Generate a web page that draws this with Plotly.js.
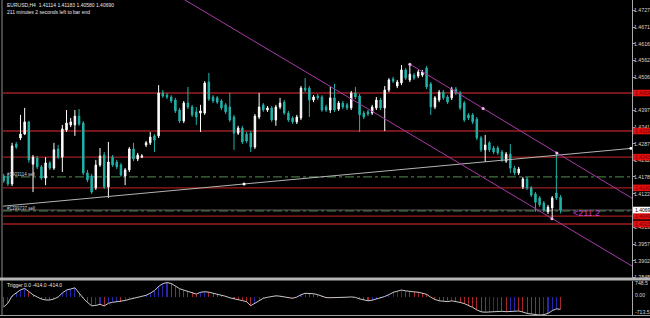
<!DOCTYPE html>
<html><head><meta charset="utf-8">
<script src="https://cdn.plot.ly/plotly-3.0.1.min.js"></script>
<style>html,body{margin:0;padding:0;background:#000;}#chart{width:650px;height:318px;}</style>
</head><body><div id="chart"></div>
<script>
// ---- data ----
const symbolInfo = 'EURUSD,H4  1.41114 1.41183 1.40580 1.40690';
const timerInfo = '211 minutes 2 seconds left to bar end';
const triggerInfo = 'Trigger 0.0 -414.0 -414.0';

const open = [1.4181,1.4178,1.4155,1.4286,1.4306,1.4319,1.4359,1.4220,1.4240,1.4211,
1.4174,1.4224,1.4207,1.4270,1.4243,1.4332,1.4349,1.4349,1.4378,1.4355,
1.4191,1.4181,1.4142,1.4217,1.4250,1.4145,1.4243,1.4227,1.4217,1.4181,
1.4201,1.4270,1.4237,1.4243,1.4283,1.4290,1.4313,1.4313,1.4454,1.4447,
1.4441,1.4431,1.4398,1.4362,1.4421,1.4408,1.4392,1.4388,1.4388,1.4490,
1.4441,1.4438,1.4428,1.4415,1.4408,1.4375,1.4322,1.4339,1.4319,1.4322,
1.4276,1.4375,1.4415,1.4398,1.4405,1.4365,1.4408,1.4424,1.4388,1.4372,
1.4359,1.4372,1.4470,1.4470,1.4431,1.4444,1.4441,1.4408,1.4398,1.4438,
1.4401,1.4421,1.4415,1.4405,1.4454,1.4444,1.4388,1.4392,1.4388,1.4405,
1.4431,1.4405,1.4464,1.4500,1.4477,1.4487,1.4530,1.4497,1.4513,1.4510,
1.4513,1.4536,1.4484,1.4408,1.4431,1.4457,1.4441,1.4438,1.4467,1.4454,
1.4421,1.4382,1.4382,1.4368,1.4306,1.4267,1.4290,1.4273,1.4273,1.4260,
1.4230,1.4253,1.4207,1.4191,1.4145,1.4171,1.4142,1.4122,1.4109,1.4092,
1.4063,1.4076,1.4125,1.41114];
const high = [1.4188,1.4184,1.4290,1.4293,1.4382,1.4405,1.4362,1.4250,1.4247,1.4217,
1.4243,1.4230,1.4290,1.4283,1.4349,1.4398,1.4372,1.4398,1.4401,1.4362,
1.4201,1.4188,1.4234,1.4273,1.4260,1.4293,1.4250,1.4234,1.4224,1.4207,
1.4276,1.4290,1.4257,1.4253,1.4296,1.4326,1.4319,1.4480,1.4464,1.4454,
1.4447,1.4438,1.4405,1.4428,1.4474,1.4415,1.4408,1.4415,1.4493,1.4520,
1.4447,1.4444,1.4434,1.4421,1.4454,1.4382,1.4346,1.4346,1.4326,1.4329,
1.4385,1.4454,1.4421,1.4411,1.4411,1.4415,1.4438,1.4431,1.4395,1.4378,
1.4382,1.4477,1.4503,1.4477,1.4447,1.4451,1.4447,1.4415,1.4474,1.4484,
1.4428,1.4428,1.4421,1.4461,1.4474,1.4451,1.4395,1.4398,1.4415,1.4441,
1.4438,1.4477,1.4503,1.4507,1.4497,1.4546,1.4536,1.4549,1.4520,1.4530,
1.4530,1.4543,1.4490,1.4444,1.4464,1.4464,1.4447,1.4474,1.4474,1.4461,
1.4428,1.4388,1.4388,1.4375,1.4313,1.4316,1.4296,1.4280,1.4280,1.4267,
1.4260,1.4286,1.4214,1.4211,1.4178,1.4178,1.4148,1.4128,1.4115,1.4099,
1.4086,1.4115,1.4260,1.41183];
const low = [1.4158,1.4148,1.4148,1.4270,1.4299,1.4316,1.4224,1.4128,1.4204,1.4168,
1.4151,1.4201,1.4201,1.4237,1.4194,1.4326,1.4342,1.4313,1.4346,1.4184,
1.4161,1.4122,1.4135,1.4211,1.4138,1.4109,1.4211,1.4204,1.4178,1.4151,
1.4194,1.4230,1.4230,1.4240,1.4276,1.4283,1.4260,1.4306,1.4438,1.4434,
1.4421,1.4388,1.4355,1.4355,1.4401,1.4375,1.4349,1.4326,1.4382,1.4428,
1.4421,1.4418,1.4398,1.4385,1.4359,1.4267,1.4316,1.4286,1.4290,1.4260,
1.4270,1.4368,1.4392,1.4392,1.4359,1.4346,1.4401,1.4382,1.4359,1.4352,
1.4352,1.4365,1.4457,1.4375,1.4424,1.4431,1.4392,1.4392,1.4388,1.4392,
1.4395,1.4401,1.4398,1.4398,1.4434,1.4326,1.4368,1.4378,1.4382,1.4398,
1.4398,1.4329,1.4457,1.4487,1.4470,1.4480,1.4497,1.4490,1.4497,1.4503,
1.4507,1.4467,1.4382,1.4401,1.4424,1.4431,1.4418,1.4431,1.4447,1.4398,
1.4359,1.4365,1.4352,1.4299,1.4260,1.4227,1.4260,1.4253,1.4250,1.4227,
1.4224,1.4191,1.4184,1.4184,1.4138,1.4135,1.4112,1.4063,1.4079,1.4063,
1.4056,1.4040,1.4102,1.40580];
const close = [1.4165,1.4155,1.4280,1.4276,1.4319,1.4359,1.4234,1.4243,1.4211,1.4174,
1.4224,1.4207,1.4267,1.4243,1.4336,1.4355,1.4359,1.4378,1.4352,1.4191,
1.4168,1.4128,1.4217,1.4247,1.4145,1.4227,1.4217,1.4211,1.4184,1.4201,
1.4270,1.4237,1.4250,1.4247,1.4290,1.4309,1.4299,1.4454,1.4444,1.4441,
1.4428,1.4395,1.4362,1.4421,1.4408,1.4382,1.4375,1.4395,1.4487,1.4434,
1.4428,1.4424,1.4405,1.4392,1.4365,1.4322,1.4339,1.4293,1.4296,1.4276,
1.4378,1.4408,1.4398,1.4405,1.4365,1.4408,1.4421,1.4388,1.4365,1.4359,
1.4375,1.4470,1.4464,1.4431,1.4441,1.4438,1.4398,1.4398,1.4438,1.4398,
1.4421,1.4408,1.4405,1.4454,1.4441,1.4382,1.4375,1.4385,1.4408,1.4431,
1.4405,1.4464,1.4497,1.4493,1.4490,1.4530,1.4503,1.4516,1.4503,1.4523,
1.4523,1.4474,1.4408,1.4438,1.4457,1.4438,1.4424,1.4467,1.4454,1.4405,
1.4365,1.4372,1.4359,1.4306,1.4267,1.4283,1.4267,1.4260,1.4257,1.4234,
1.4253,1.4207,1.4191,1.4204,1.4171,1.4142,1.4118,1.4095,1.4086,1.4069,
1.4079,1.4109,1.4109,1.40690];

const trigger = [-337,-209,34,142,239,290,168,74,0,-67,
-101,-101,-67,0,135,236,270,310,135,-44,
-182,-297,-286,-246,-303,-212,-179,-158,-158,-118,
-78,-44,-20,3,57,128,216,354,452,485,
455,371,280,233,195,152,98,158,179,162,
125,104,74,24,-27,-71,-91,-121,-158,-293,
-219,-118,-44,-10,20,40,27,3,-30,-44,
-3,78,125,125,111,78,27,-20,-24,-24,
-24,-17,-7,3,-13,-64,-104,-128,-108,-74,
-37,17,81,155,195,233,209,179,172,162,
135,91,-7,-84,-128,-148,-155,-131,-145,-182,
-222,-276,-350,-435,-499,-512,-506,-495,-479,-482,
-495,-482,-472,-472,-506,-553,-573,-590,-607,-593,
-553,-458,-401,-414];

const priceTicks = [1.4727,1.4671,1.4616,1.4562,1.4506,1.4397,1.4341,1.4287,1.4232,1.4178,1.4122,1.4013,1.3957,1.3902,1.3848];
const priceTickText = ['1.4727','1.4671','1.4616','1.4562','1.4506','1.4397','1.4341','1.4287','1.4232','1.4178','1.4122','1.4013','1.3957','1.3902','1.3848'];

const redLevels = [1.4454,1.4329,1.4243,1.4142,1.4049,1.4023];
const redLevelText = ['1.4454','1.4329','1.4243','1.4142','1.4049','1.4023'];
const orderLevels = [1.4178,1.4066];
const orderLabels = ['#1403114 sell','#1399737 sell'];
const bidPrice = 1.4069;
const bidText = '1.4069';

// drawn objects (anchor points in bar index / price)
const grayTrendX = [-1,151], grayTrendY = [1.40807,1.42733];
const channelLowX = [40,151], channelLowY = [1.4787,1.3877];
const channelHighX = [97,151], channelHighY = [1.4549,1.4100];
const anchorX = [97,114.5,132.1,130.95], anchorY = [1.4549,1.4403,1.4257,1.4040];
const trendDotX = [57.4,149.8], trendDotY = [1.4155,1.4272];
const pipsLabel = '<211.2';
const indLabels = ['748.5','0.00','-713.5'];

// ---- build ----
const bar = open.map((_, i) => i);
const TEAL = '#20b2aa', BLUE = '#2626a8', RED = '#a82626';
const histColors = trigger.map((v, i) => (i > 0 && v > trigger[i-1]) ? BLUE : RED);

const FONT = 'Liberation Sans, Arial, sans-serif';
const PX_W = 629, PX_H = 316;
const px2x = p => (p - 3) / PX_W;
const px2y = p => (PX_H - p) / PX_H;
const pricePerPx = (1.4760 - 1.38454) / 278;

const traces = [
  {type:'bar', x:bar, y:trigger, xaxis:'x2', yaxis:'y2', width:0.25,
   marker:{color:histColors, line:{width:0}}, hoverinfo:'skip'},
  {type:'scatter', mode:'lines', x:bar, y:trigger, xaxis:'x2', yaxis:'y2',
   line:{color:'#c8c8c8', width:1}, hoverinfo:'skip'},
  {type:'scatter', mode:'lines', x:grayTrendX, y:grayTrendY, line:{color:'#b4b4b4', width:1}, hoverinfo:'skip'},
  {type:'scatter', mode:'lines', x:channelLowX, y:channelLowY, line:{color:'#a83aa8', width:1}, hoverinfo:'skip'},
  {type:'scatter', mode:'lines', x:channelHighX, y:channelHighY, line:{color:'#a83aa8', width:1}, hoverinfo:'skip'},
  {type:'candlestick', x:bar, open:open, high:high, low:low, close:close,
   increasing:{line:{color:'#ffffff', width:1}, fillcolor:'#ffffff'},
   decreasing:{line:{color:TEAL, width:1}, fillcolor:TEAL},
   whiskerwidth:0, hoverinfo:'skip'},
  {type:'scatter', mode:'markers', x:anchorX, y:anchorY, marker:{color:'#f0b8f0', size:3}, hoverinfo:'skip'},
  {type:'scatter', mode:'markers', x:trendDotX, y:trendDotY, marker:{color:'#ffffff', size:3}, hoverinfo:'skip'}
];

const shapes = [];
redLevels.forEach(v => shapes.push({type:'line', xref:'x domain', x0:0, x1:1, yref:'y', y0:v, y1:v,
  line:{color:'#9e1e1e', width:1.3}, layer:'below'}));
orderLevels.forEach(v => shapes.push({type:'line', xref:'x domain', x0:0, x1:1, yref:'y', y0:v, y1:v,
  line:{color:'#4f8f4f', width:1, dash:'dashdot'}, layer:'below'}));
shapes.push({type:'line', xref:'x domain', x0:0, x1:1, yref:'y', y0:bidPrice, y1:bidPrice,
  line:{color:'#606060', width:1}, layer:'below'});
// right-axis price boxes
const boxH = 3.3 * pricePerPx;
redLevels.forEach(v => shapes.push({type:'rect', xref:'paper', x0:px2x(633), x1:px2x(651), yref:'y',
  y0:v - boxH, y1:v + boxH, fillcolor:'#e01010', line:{width:0}, layer:'above'}));
shapes.push({type:'rect', xref:'paper', x0:px2x(633), x1:px2x(651), yref:'y',
  y0:bidPrice - boxH, y1:bidPrice + boxH, fillcolor:'#ffffff', line:{width:0}, layer:'above'});
// frame
shapes.push({type:'line', xref:'paper', yref:'paper', x0:px2x(2), x1:px2x(2), y0:0, y1:1, line:{color:'#8c8c8c', width:1}});
shapes.push({type:'rect', xref:'paper', yref:'paper', x0:px2x(0), x1:px2x(650), y0:px2y(280.5), y1:px2y(277.5),
  fillcolor:'#b4b4b4', line:{width:0}});
shapes.push({type:'line', xref:'paper', yref:'paper', x0:px2x(0), x1:px2x(650), y0:px2y(315.5), y1:px2y(315.5), line:{color:'#a0a0a0', width:1}});

const txt = (s, c) => ({family:FONT, size:s, color:c});
const annotations = [
  {xref:'paper', yref:'paper', x:px2x(5), y:px2y(5), text:symbolInfo, showarrow:false, xanchor:'left', yanchor:'middle', font:txt(5,'#e8e8e8')},
  {xref:'paper', yref:'paper', x:px2x(5), y:px2y(12), text:timerInfo, showarrow:false, xanchor:'left', yanchor:'middle', font:txt(5,'#e8e8e8')},
  {xref:'paper', yref:'paper', x:px2x(5), y:px2y(285), text:triggerInfo, showarrow:false, xanchor:'left', yanchor:'middle', font:txt(5,'#e8e8e8')},
  {xref:'paper', yref:'paper', x:px2x(633), y:px2y(283), text:indLabels[0], showarrow:false, xanchor:'left', yanchor:'middle', font:txt(5.2,'#d8d8d8')},
  {xref:'paper', yref:'paper', x:px2x(633), y:px2y(295), text:indLabels[1], showarrow:false, xanchor:'left', yanchor:'middle', font:txt(5.2,'#d8d8d8')},
  {xref:'paper', yref:'paper', x:px2x(633), y:px2y(312), text:indLabels[2], showarrow:false, xanchor:'left', yanchor:'middle', font:txt(5.2,'#d8d8d8')},
  {xref:'x', yref:'y', x:bar[bar.length-1] + 2.6, y:bidPrice - 3 * pricePerPx, text:pipsLabel, showarrow:false, xanchor:'left', yanchor:'middle', font:txt(9,'#c83cd0')}
];
orderLevels.forEach((v, i) => annotations.push({xref:'paper', yref:'y', x:px2x(5), y:v, yshift:2, text:orderLabels[i],
  showarrow:false, xanchor:'left', yanchor:'middle', font:txt(4.5,'#d0d0d0')}));
redLevels.forEach((v, i) => annotations.push({xref:'paper', yref:'y', x:px2x(633), y:v, text:redLevelText[i],
  showarrow:false, xanchor:'left', yanchor:'middle', font:txt(5,'#7a0000')}));
annotations.push({xref:'paper', yref:'y', x:px2x(633), y:bidPrice, text:bidText,
  showarrow:false, xanchor:'left', yanchor:'middle', font:txt(5,'#000000')});

const layout = {
  width:650, height:318,
  margin:{l:3, r:18, t:0, b:2, pad:0},
  paper_bgcolor:'#000000', plot_bgcolor:'#000000',
  showlegend:false, boxgap:0.5, bargap:0,
  xaxis:{domain:[0,1], anchor:'y', range:[-0.17,150.06], visible:false, rangeslider:{visible:false}, fixedrange:true},
  xaxis2:{domain:[0,1], anchor:'y2', matches:'x', range:[-0.17,150.06], visible:false, fixedrange:true},
  yaxis:{domain:[px2y(278),1], side:'right', range:[1.38454,1.4760], tickvals:priceTicks, ticktext:priceTickText,
    showgrid:false, zeroline:false, showline:true, linecolor:'#a8a8a8', linewidth:1,
    ticks:'outside', ticklen:2, tickcolor:'#a8a8a8', ticklabelstandoff:-2, tickfont:txt(5.2,'#d8d8d8'), fixedrange:true},
  yaxis2:{domain:[0,px2y(281)], side:'right', range:[-640,539], showticklabels:false, ticks:'',
    showgrid:false, zeroline:false, showline:true, linecolor:'#a8a8a8', linewidth:1, fixedrange:true},
  shapes:shapes, annotations:annotations
};

Plotly.newPlot('chart', traces, layout, {displayModeBar:false, staticPlot:true});
</script></body></html>
